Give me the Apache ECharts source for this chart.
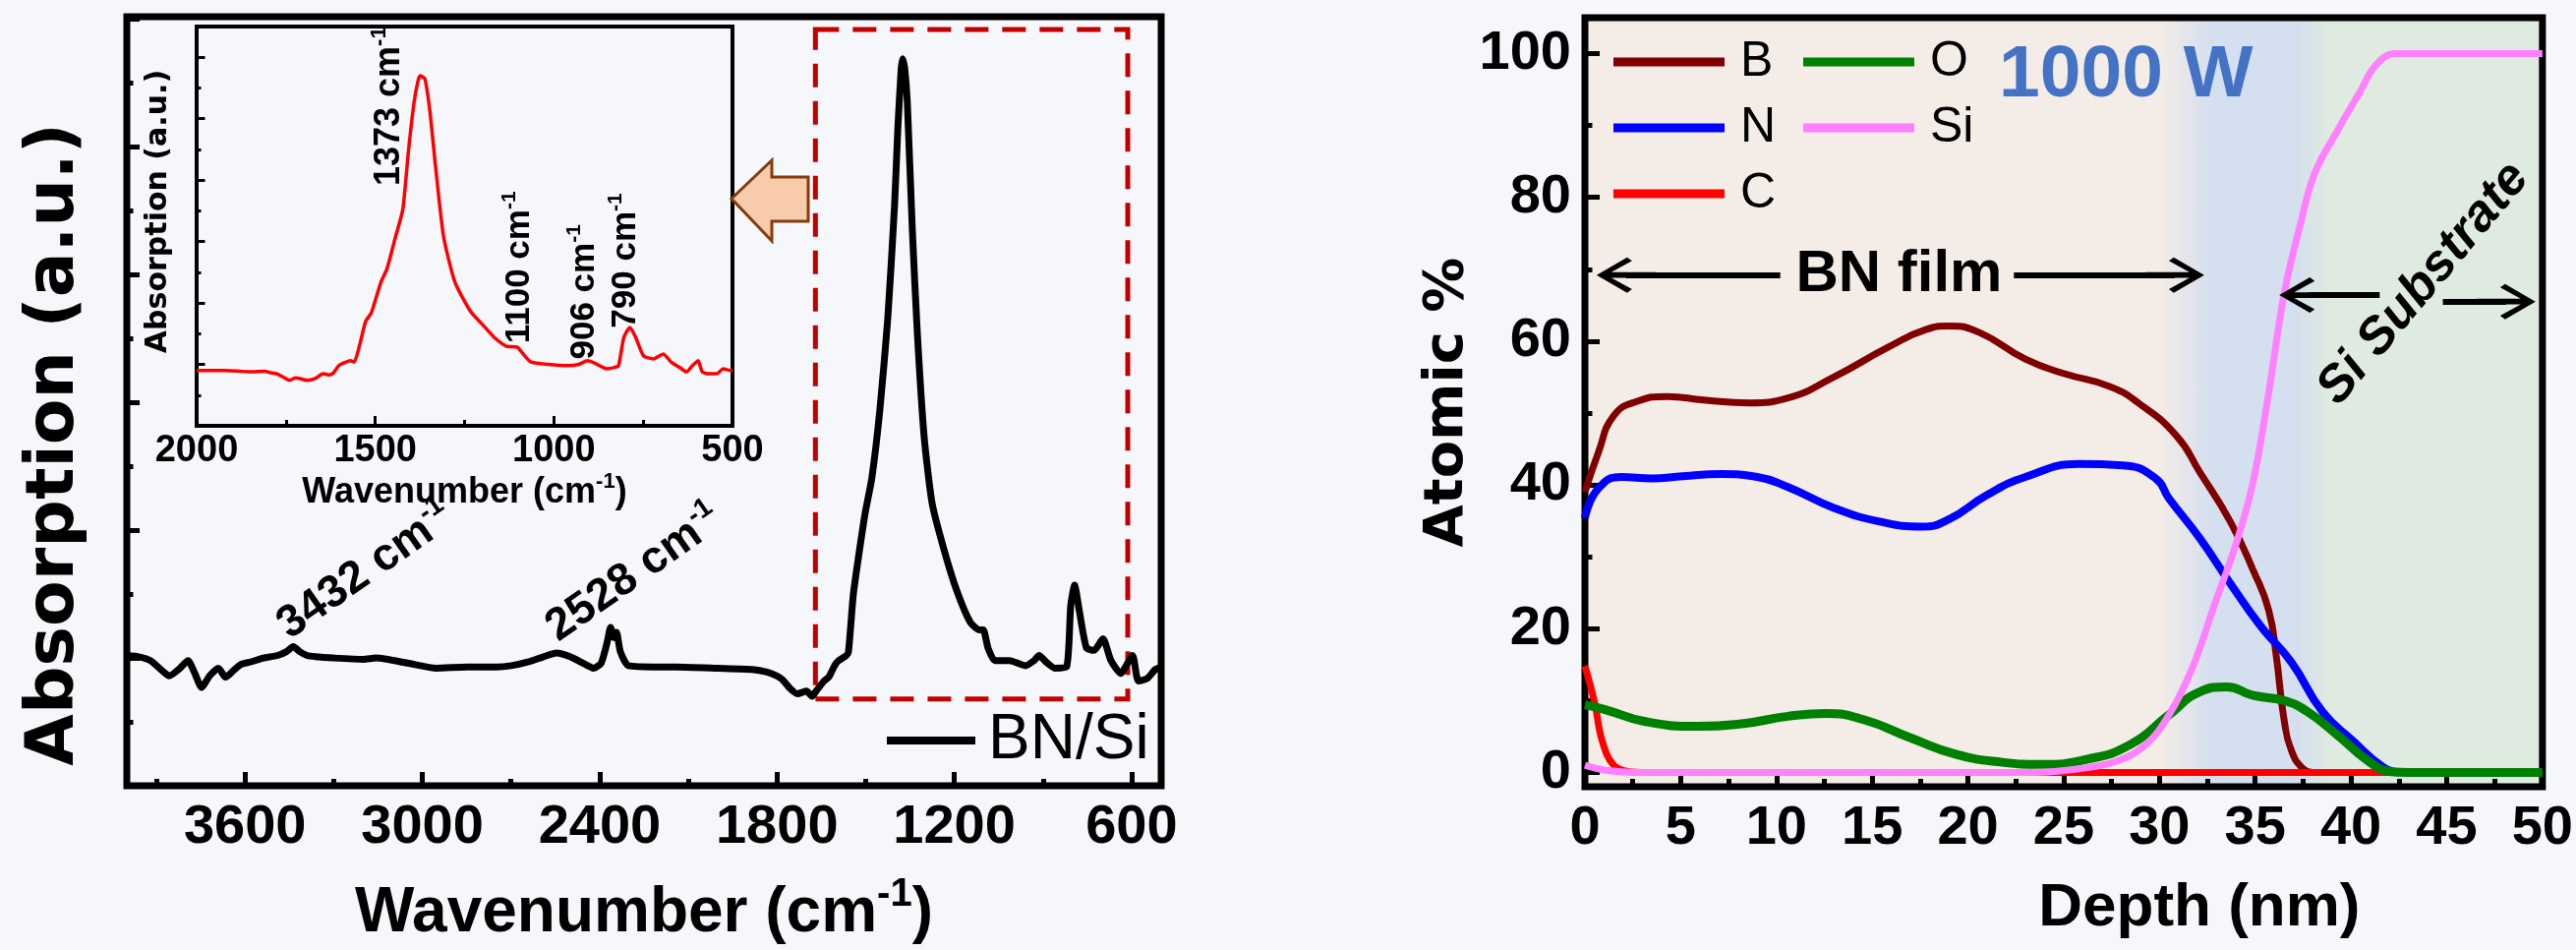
<!DOCTYPE html>
<html><head><meta charset="utf-8">
<script src="https://cdn.jsdelivr.net/npm/echarts@6/dist/echarts.min.js"></script>
<style>html,body{margin:0;padding:0;background:#f5f7fb}#c{width:2620px;height:966px}</style>
</head><body><div id="c"></div>
<script>
// ---------- data ----------
const ftirWavenumber = [4000,3960,3920,3880,3857,3820,3793,3770,3747,3720,3690,3666,3640,3614,3580,3538,3490,3460,3437,3415,3390,3361,3300,3200,3156,3050,2952,2850,2750,2699,2640,2590,2546,2500,2440,2420,2395,2375,2363,2352,2343,2330,2303,2200,2138,2000,1884,1834,1800,1781,1755,1731,1700,1681,1668,1641,1625,1605,1591,1565,1558,1542,1528,1502,1479,1452,1425,1402,1391,1380,1375,1368,1359,1342,1325,1302,1275,1235,1192,1146,1115,1102,1086,1063,1013,960,930,913,890,860,820,806,793,777,753,727,697,670,637,597,577,547,520,500];
const ftirAbsorption = [1.02,1.01,0.98,0.90,0.86,0.92,0.98,0.88,0.77,0.86,0.92,0.85,0.90,0.95,0.97,1.00,1.02,1.05,1.09,1.05,1.02,1.01,1.00,0.99,1.00,0.96,0.92,0.93,0.93,0.94,0.97,1.01,1.04,1.01,0.94,0.92,0.96,1.12,1.24,1.16,1.20,1.05,0.94,0.93,0.93,0.92,0.91,0.89,0.86,0.83,0.76,0.72,0.74,0.70,0.74,0.82,0.85,0.94,0.98,1.02,1.05,1.49,1.73,2.13,2.41,2.94,3.66,4.55,5.15,5.60,5.69,5.62,5.35,4.35,3.54,2.73,2.21,1.85,1.53,1.28,1.22,1.22,1.08,0.98,0.98,0.94,0.98,1.02,0.97,0.92,0.93,1.41,1.57,1.37,1.08,1.06,1.15,0.98,0.88,1.02,0.82,0.84,0.91,0.93];

const insetWavenumber = [2000,1960,1919,1880,1850,1810,1790,1777,1760,1740,1723,1705,1690,1668,1646,1630,1619,1602,1585,1570,1559,1543,1527,1511,1484,1467,1445,1423,1407,1391,1380,1374,1361,1347,1331,1309,1277,1233,1200,1167,1134,1102,1086,1064,1016,961,930,906,885,852,830,819,804,787,771,749,721,694,672,650,629,612,596,585,570,543,526,504,500];
const insetAbsorption = [0.90,0.90,0.90,0.89,0.88,0.89,0.86,0.85,0.80,0.74,0.78,0.76,0.74,0.77,0.85,0.83,0.85,0.98,1.03,1.06,1.04,1.33,1.70,1.84,2.34,2.56,3.04,3.52,4.48,5.28,5.62,5.70,5.65,5.12,4.21,3.09,2.34,1.86,1.65,1.44,1.30,1.28,1.17,1.04,1.00,0.98,1.00,1.06,1.02,0.93,0.95,0.98,1.44,1.60,1.44,1.14,1.09,1.17,1.04,0.96,0.88,0.98,1.06,0.88,0.85,0.85,0.93,0.90,0.90];

const boronDepth = [0,0.7,1.5,2.7,4.3,6.2,8.6,10.6,13,15.8,17.8,19,20.6,23,25,27.4,28.9,30.9,32.1,33.7,34.9,35.7,36.1,36.5,36.9,37.5,38];
const boronAtomic = [39,44.5,49.6,51.6,52.3,51.8,51.4,52.1,55,59.1,61.6,62.1,61.2,57.5,55.5,53.7,51.4,46.8,41.8,34.9,28.1,22.6,16.2,7.5,3.0,0.5,0];
const nitrogenDepth = [0,0.7,1.9,3.5,5.1,7.1,9,10.6,13,15.4,17.6,19,21,23,25.8,28.1,29.8,30.5,32.1,33.7,35.3,36.9,38.5,40.1,41.7,42.5];
const nitrogenAtomic = [35.4,39.5,41.1,40.9,41.2,41.5,41.1,39.7,36.8,34.9,34.2,35.2,38.6,41.1,42.9,42.7,40.9,38.1,32.6,26.3,20.3,15.3,8.5,4.4,0.7,0];
const carbonDepth = [0,0.5,0.9,1.5,2.3,3,10,20,30,42];
const carbonAtomic = [14.8,9.8,4.4,1.0,0.1,0,0,0,0,0];
const oxygenDepth = [0,1.1,3.1,5.9,8.3,10.6,12.6,14.6,17,19.4,21.8,23.8,26.2,28.5,30.5,32.1,33.5,34.9,36.5,37.7,39.3,40.9,42.1,43,50];
const oxygenAtomic = [9.4,8.7,7.1,6.4,6.8,7.8,8.2,7.3,4.8,2.5,1.4,1.1,1.8,3.9,8.0,11.2,11.9,10.7,10.0,8.5,5.2,1.6,0.1,0,0];
const siliconDepth = [0,1.1,2.7,10,20,23.4,25.8,27.8,29.3,30.5,31.7,32.9,34.1,34.9,35.7,36.5,37.3,38.1,39.3,40.5,41.3,42.3,50];
const siliconAtomic = [1.0,0.3,0,0,0,0,0.5,1.6,3.9,8.0,14.4,23.5,32.6,40.5,52.7,66.4,75.6,83.3,89.3,94.8,98.4,100,100];

const mainXMajorTicks = [600,1200,1800,2400,3000,3600];
const mainXMinorTicks = [900,1500,2100,2700,3300,3900];
const depthYMajorTicks = [0,20,40,60,80,100];
const depthYMinorTicks = [10,30,50,70,90];

// ---------- helpers ----------
const FONT = "'Liberation Sans', Arial, Helvetica, sans-serif";
const WIDE = "'DejaVu Sans', Verdana, sans-serif";
const zip = (xs, ys) => xs.map((x, i) => [x, ys[i]]);
const plain = v => String(v);
const txt = (size, extra) => Object.assign({fontFamily: FONT, fontWeight: 'bold', fontSize: size, color: '#000'}, extra || {});
function valueAxis(o) {
  return Object.assign({type: 'value', axisLine: {show: false, onZero: false}, splitLine: {show: false},
    axisLabel: {show: false}, axisTick: {show: false}}, o);
}
function ticks(len, w, extra) {
  return Object.assign({show: true, inside: true, length: len, lineStyle: {color: '#000', width: w}}, extra || {});
}
function supLabel(num, size, rot) {
  return {show: true, position: 'inside', rotate: rot, color: '#000',
    formatter: '{a|' + num + ' cm}{s|-1}',
    rich: {a: txt(size, {lineHeight: Math.round(size * 1.2)}),
           s: txt(Math.round(size * 0.6), {lineHeight: Math.round(size * 0.6), verticalAlign: 'top'})}};
}
const ARROW = 'path://M50,0 L100,62 L90,72 L58,30 L58,120 L42,120 L42,30 L10,72 L0,62 Z';
const depthLegend = (names, left) => ({data: names, orient: 'vertical', left: left, top: 38, padding: 0, icon: 'rect',
  itemWidth: 113, itemHeight: 9, itemGap: 17, selectedMode: false,
  textStyle: {fontFamily: FONT, fontSize: 50, color: '#000', padding: [0, 0, 0, 11]}});

const chart = echarts.init(document.getElementById('c'), null, {width: 2620, height: 966});

const option = {
  animation: false,
  backgroundColor: '#f5f7fb',
  grid: [
    {left: 129, top: 17, width: 1052, height: 783, show: true, borderColor: '#000', borderWidth: 7, backgroundColor: 'rgba(0,0,0,0)'},
    {left: 200, top: 27, width: 545, height: 406, show: true, borderColor: '#000', borderWidth: 4, backgroundColor: '#f5f7fb'},
    {left: 1612, top: 18, width: 978, height: 782, show: true, borderColor: '#000', borderWidth: 7,
      backgroundColor: new echarts.graphic.LinearGradient(0, 0, 1, 0, [
        {offset: 0, color: '#f4ece7'}, {offset: 0.6, color: '#f4ece7'},
        {offset: 0.655, color: '#d4dfef'}, {offset: 0.74, color: '#d4dfef'},
        {offset: 0.775, color: '#dfeae1'}, {offset: 1, color: '#dfeae1'}])}
  ],
  xAxis: [
    valueAxis({gridIndex: 0, position: 'bottom', min: 500, max: 4000, inverse: true,
      axisTick: ticks(14, 5, {customValues: mainXMajorTicks}),
      axisLabel: Object.assign({show: true, margin: 15, customValues: mainXMajorTicks, formatter: plain}, txt(56)),
      name: '{a|Wavenumber (cm}{s|-1}{a|)}', nameLocation: 'middle', nameGap: 91,
      nameTextStyle: {rich: {a: txt(64, {lineHeight: 78}), s: txt(40, {lineHeight: 40, verticalAlign: 'top'})}}}),
    valueAxis({gridIndex: 0, position: 'bottom', min: 500, max: 4000, inverse: true,
      axisTick: ticks(7, 5, {customValues: mainXMinorTicks})}),
    valueAxis({gridIndex: 1, position: 'bottom', min: 500, max: 2000, interval: 500, inverse: true,
      axisTick: ticks(10, 3),
      axisLabel: Object.assign({show: true, margin: 7, showMinLabel: true, showMaxLabel: true, formatter: plain}, txt(38)),
      name: '{a|Wavenumber (cm}{s|-1}{a|)}', nameLocation: 'middle', nameGap: 44,
      nameTextStyle: {rich: {a: txt(36, {lineHeight: 44}), s: txt(22, {lineHeight: 22, verticalAlign: 'top'})}}}),
    valueAxis({gridIndex: 1, position: 'bottom', min: 500, max: 2000, interval: 250, inverse: true,
      axisTick: ticks(6, 3)}),
    valueAxis({gridIndex: 2, position: 'bottom', min: 0, max: 50, interval: 5,
      axisTick: ticks(11, 5),
      axisLabel: Object.assign({show: true, margin: 15, showMinLabel: true, showMaxLabel: true, formatter: plain}, txt(56)),
      name: 'Depth (nm)', nameLocation: 'middle', nameGap: 93,
      nameTextStyle: txt(62, {padding: [0, 0, 0, 276]})}),
    valueAxis({gridIndex: 2, position: 'bottom', min: 0, max: 50, interval: 2.5,
      axisTick: ticks(8, 5)})
  ],
  yAxis: [
    valueAxis({gridIndex: 0, position: 'left', min: 0, max: 6.02, interval: 1,
      axisTick: ticks(13, 5),
      name: 'Absorption (a.u.)', nameLocation: 'middle', nameGap: 39,
      nameTextStyle: {fontFamily: WIDE, fontWeight: 'bold', fontSize: 68, color: '#000', padding: [0, 88, 0, 0]}}),
    valueAxis({gridIndex: 0, position: 'left', min: 0, max: 6.02, interval: 0.5,
      axisTick: ticks(6.5, 5)}),
    valueAxis({gridIndex: 1, position: 'left', min: 0, max: 6.5, interval: 1,
      axisTick: ticks(8.5, 3),
      name: 'Absorption (a.u.)', nameLocation: 'middle', nameGap: 24,
      nameTextStyle: {fontFamily: WIDE, fontWeight: 'bold', fontSize: 30, color: '#000', padding: [0, 0, 0, 30]}}),
    valueAxis({gridIndex: 1, position: 'left', min: 0, max: 6.5, interval: 0.5,
      axisTick: ticks(4.5, 3)}),
    valueAxis({gridIndex: 2, position: 'left', min: -2, max: 105,
      axisTick: ticks(15, 5, {customValues: depthYMajorTicks}),
      axisLabel: Object.assign({show: true, margin: 14, customValues: depthYMajorTicks, formatter: plain}, txt(56)),
      name: 'Atomic %', nameLocation: 'middle', nameGap: 101,
      nameTextStyle: {fontFamily: WIDE, fontWeight: 'bold', fontSize: 56, color: '#000'}}),
    valueAxis({gridIndex: 2, position: 'left', min: -2, max: 105,
      axisTick: ticks(7.5, 5, {customValues: depthYMinorTicks})})
  ],
  legend: [
    {data: ['BN/Si'], left: 902, top: 721, padding: 0, icon: 'rect', itemWidth: 90, itemHeight: 8,
      selectedMode: false, textStyle: {fontFamily: FONT, fontSize: 64, color: '#000', lineHeight: 64, padding: [0, 0, 0, 8]}},
    depthLegend(['B', 'N', 'C'], 1641),
    depthLegend(['O', 'Si'], 1834)
  ],
  graphic: [
    {type: 'polygon', z: 100,
      shape: {points: [[744, 202], [785, 163], [785, 180], [822, 180], [822, 225], [785, 225], [785, 245]]},
      style: {fill: '#f8cbad', stroke: '#843c0c', lineWidth: 3}}
  ],
  series: [
    {name: 'BN/Si', type: 'line', xAxisIndex: 0, yAxisIndex: 0, data: zip(ftirWavenumber, ftirAbsorption),
      showSymbol: false, symbol: 'none', smooth: 0.2, itemStyle: {color: '#000'},
      lineStyle: {color: '#000', width: 7, join: 'round'},
      markArea: {silent: true,
        itemStyle: {color: 'rgba(0,0,0,0)', borderColor: '#c00000', borderWidth: 5, borderType: [24, 14]},
        data: [[{coord: [1670, 5.92]}, {coord: [613, 0.68]}]]},
      markPoint: {symbol: 'circle', symbolSize: 1, itemStyle: {color: 'transparent'}, silent: true,
        data: [
          {name: 'a', coord: [3192, 1.68], label: supLabel('3432', 46, 35)},
          {name: 'b', coord: [2283, 1.66], label: supLabel('2528', 46, 35)}
        ]}},
    {name: 'inset', type: 'line', xAxisIndex: 2, yAxisIndex: 2, data: zip(insetWavenumber, insetAbsorption),
      showSymbol: false, symbol: 'none', smooth: 0.2, itemStyle: {color: '#ff0000'},
      lineStyle: {color: '#ff0000', width: 3.5},
      markPoint: {symbol: 'circle', symbolSize: 1, itemStyle: {color: 'transparent'}, silent: true,
        data: [
          {name: 'c', coord: [1459, 5.2], label: supLabel('1373', 36, 90)},
          {name: 'd', coord: [1096, 2.58], label: supLabel('1100', 35, 90)},
          {name: 'e', coord: [914, 2.18], label: supLabel('906', 35, 90)},
          {name: 'f', coord: [798, 2.69], label: supLabel('790', 35, 90)}
        ]}},
    {name: 'B', type: 'line', xAxisIndex: 4, yAxisIndex: 4, data: zip(boronDepth, boronAtomic),
      showSymbol: false, symbol: 'none', smooth: 0.5,
      itemStyle: {color: '#800000'}, lineStyle: {color: '#800000', width: 7}},
    {name: 'N', type: 'line', xAxisIndex: 4, yAxisIndex: 4, data: zip(nitrogenDepth, nitrogenAtomic),
      showSymbol: false, symbol: 'none', smooth: 0.5,
      itemStyle: {color: '#0000ff'}, lineStyle: {color: '#0000ff', width: 8}},
    {name: 'C', type: 'line', xAxisIndex: 4, yAxisIndex: 4, data: zip(carbonDepth, carbonAtomic),
      showSymbol: false, symbol: 'none', smooth: 0.4,
      itemStyle: {color: '#ff0000'}, lineStyle: {color: '#ff0000', width: 7}},
    {name: 'O', type: 'line', xAxisIndex: 4, yAxisIndex: 4, data: zip(oxygenDepth, oxygenAtomic),
      showSymbol: false, symbol: 'none', smooth: 0.5,
      itemStyle: {color: '#008000'}, lineStyle: {color: '#008000', width: 9}},
    {name: 'Si', type: 'line', xAxisIndex: 4, yAxisIndex: 4, data: zip(siliconDepth, siliconAtomic),
      showSymbol: false, symbol: 'none', smooth: 0.4,
      itemStyle: {color: '#ff80ff'}, lineStyle: {color: '#ff80ff', width: 7},
      markLine: {silent: true, symbol: 'none', symbolSize: [36, 60],
        lineStyle: {color: '#000', width: 6, type: 'solid'}, label: {show: false},
        data: [
          [{coord: [2.15, 69.2], symbol: ARROW}, {coord: [10.2, 69.2], symbol: 'none'}],
          [{coord: [22.4, 69.2], symbol: 'none'}, {coord: [30.8, 69.2], symbol: ARROW}],
          [{coord: [37.8, 66.4], symbol: ARROW}, {coord: [41.5, 66.4], symbol: 'none'}],
          [{coord: [44.8, 65.5], symbol: 'none'}, {coord: [48.1, 65.5], symbol: ARROW}]
        ]},
      markPoint: {symbol: 'circle', symbolSize: 1, itemStyle: {color: 'transparent'}, silent: true,
        data: [
          {name: 'g', coord: [28.25, 96.9], label: Object.assign({show: true, position: 'inside', formatter: '1000 W'}, txt(75, {color: '#4472c4'}))},
          {name: 'h', coord: [16.4, 69.2], label: Object.assign({show: true, position: 'inside', formatter: 'BN film'}, txt(60))},
          {name: 'i', coord: [43.8, 68.0], label: Object.assign({show: true, position: 'inside', rotate: 50, formatter: 'Si Substrate', fontStyle: 'italic'}, txt(52))}
        ]}}
  ]
};
chart.setOption(option);
</script>
</body></html>
